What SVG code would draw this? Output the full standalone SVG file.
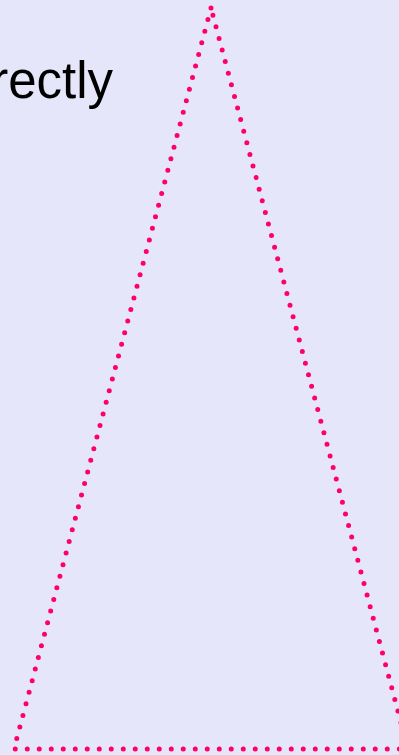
<svg xmlns="http://www.w3.org/2000/svg" width="399" height="755" viewBox="0 0 399 755">
<style>
.bg{fill:#e6e6fa}
.tri{fill:none;stroke:#ff0066;stroke-width:5;stroke-linecap:round;stroke-dasharray:0 12}
.lbl{font-family:"Liberation Sans",Arial,sans-serif;font-size:51px;fill:#000}
</style>
<rect class="bg" x="0" y="0" width="399" height="755"/>
<g id="label"><text class="lbl" x="113" y="98" text-anchor="end">correctly</text></g>
<g id="triangle"><path class="tri" d="M211,8 L14,749 L408,749 Z"/></g>
</svg>
